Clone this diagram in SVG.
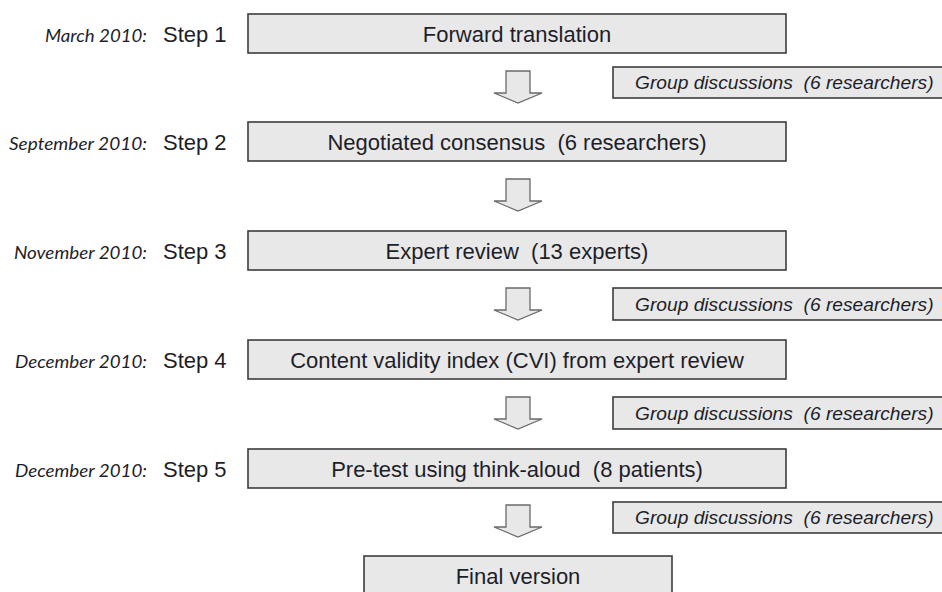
<svg xmlns="http://www.w3.org/2000/svg" width="942" height="592" viewBox="0 0 942 592">
<style>
  .box { fill: #e8e8e8; stroke: #3c3c3c; stroke-width: 1.6; }
  .gbox { fill: #e8e8e8; stroke: #3c3c3c; stroke-width: 1.6; }
  .arrow { fill: #e8e8e8; stroke: #6a6a6a; stroke-width: 1.3; stroke-linejoin: miter; }
  .main { font-family: "Liberation Sans", Arial, sans-serif; font-size: 22px; fill: #1e1e28; white-space: pre; }
  .grp { font-family: "Liberation Sans", Arial, sans-serif; font-size: 19.2px; font-style: italic; fill: #1e1e28; white-space: pre; }
  .date { font-family: Lato, "Open Sans", sans-serif; font-size: 18px; font-style: italic; fill: #1e1e28; text-anchor: end; }
  .step { font-family: "Liberation Sans", Arial, sans-serif; font-size: 22px; fill: #1e1e28; }
</style>
<defs>
  <path id="dnArrow" class="arrow" d="M-12,0 H12 V22 H24 L0,32 L-24,22 H-12 Z"/>
</defs>

<g id="connectors">
  <use href="#dnArrow" x="518" y="71"/>
  <use href="#dnArrow" x="518" y="179"/>
  <use href="#dnArrow" x="518" y="288"/>
  <use href="#dnArrow" x="518" y="397"/>
  <use href="#dnArrow" x="518" y="505"/>
</g>

<g id="step1">
  <text class="date" x="147" y="42" textLength="102" lengthAdjust="spacingAndGlyphs">March 2010:</text>
  <text class="step" x="163" y="42">Step 1</text>
  <rect class="box" x="248" y="14" width="538" height="39"/>
  <text class="main" x="517" y="42" text-anchor="middle">Forward translation</text>
</g>

<g id="group1">
  <rect class="gbox" x="613" y="67" width="340" height="31"/>
  <text class="grp" x="635" y="89">Group discussions  (6 researchers)</text>
</g>

<g id="step2">
  <text class="date" x="147" y="150" textLength="138" lengthAdjust="spacingAndGlyphs">September 2010:</text>
  <text class="step" x="163" y="150">Step 2</text>
  <rect class="box" x="248" y="122" width="538" height="39"/>
  <text class="main" x="517" y="150" text-anchor="middle">Negotiated consensus  (6 researchers)</text>
</g>

<g id="step3">
  <text class="date" x="147" y="259" textLength="133" lengthAdjust="spacingAndGlyphs">November 2010:</text>
  <text class="step" x="163" y="259">Step 3</text>
  <rect class="box" x="248" y="231" width="538" height="39"/>
  <text class="main" x="517" y="259" text-anchor="middle">Expert review  (13 experts)</text>
</g>

<g id="group2">
  <rect class="gbox" x="613" y="288" width="340" height="32"/>
  <text class="grp" x="635" y="311">Group discussions  (6 researchers)</text>
</g>

<g id="step4">
  <text class="date" x="147" y="368" textLength="132" lengthAdjust="spacingAndGlyphs">December 2010:</text>
  <text class="step" x="163" y="368">Step 4</text>
  <rect class="box" x="248" y="340" width="538" height="39"/>
  <text class="main" x="517" y="368" text-anchor="middle">Content validity index (CVI) from expert review</text>
</g>

<g id="group3">
  <rect class="gbox" x="613" y="397" width="340" height="32"/>
  <text class="grp" x="635" y="420">Group discussions  (6 researchers)</text>
</g>

<g id="step5">
  <text class="date" x="147" y="477" textLength="132" lengthAdjust="spacingAndGlyphs">December 2010:</text>
  <text class="step" x="163" y="477">Step 5</text>
  <rect class="box" x="248" y="449" width="538" height="39"/>
  <text class="main" x="517" y="477" text-anchor="middle">Pre-test using think-aloud  (8 patients)</text>
</g>

<g id="group4">
  <rect class="gbox" x="613" y="502" width="340" height="31"/>
  <text class="grp" x="635" y="524">Group discussions  (6 researchers)</text>
</g>

<g id="final">
  <rect class="box" x="364" y="556" width="308" height="40"/>
  <text class="main" x="518" y="584" text-anchor="middle">Final version</text>
</g>
</svg>
